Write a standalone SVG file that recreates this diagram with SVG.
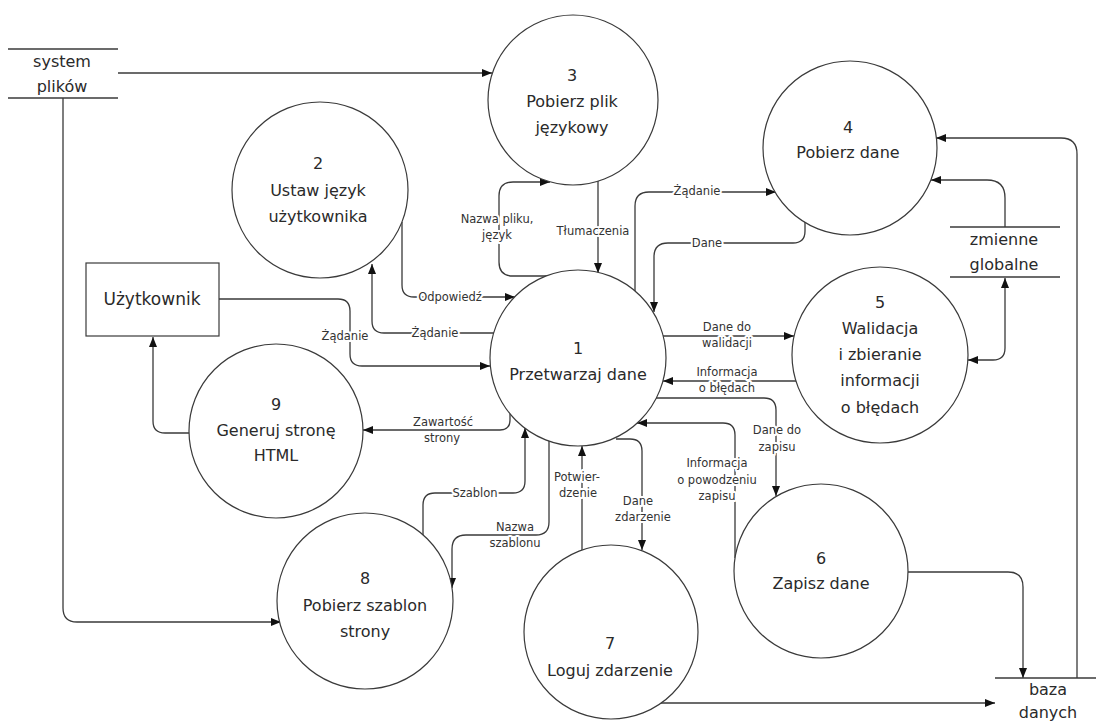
<svg xmlns="http://www.w3.org/2000/svg" width="1096" height="722" viewBox="0 0 1096 722">
<style>
.n{fill:#fff;stroke:#3a3a3a;stroke-width:1.2}
.t{font-family:"DejaVu Sans",Verdana,sans-serif;font-size:16px;fill:#2a2a2a;text-anchor:middle}
.l{font-family:"DejaVu Sans",Verdana,sans-serif;font-size:11.5px;fill:#333;text-anchor:middle;stroke:#fff;stroke-width:4px;paint-order:stroke;stroke-linejoin:round}
.c{fill:none;stroke:#3a3a3a;stroke-width:1.3}
.a{marker-end:url(#ah)}
.s{stroke:#3a3a3a;stroke-width:1.3}
</style>
<defs>
<marker id="ah" viewBox="0 0 10 8" refX="10" refY="4" markerWidth="10" markerHeight="8" orient="auto-start-reverse" markerUnits="userSpaceOnUse"><path d="M0,0 L10,4 L0,8z" fill="#111"/></marker>
</defs>
<rect width="1096" height="722" fill="#fff"/>
<g id="connectors">
<path class="c a" d="M118,73 H492"/>
<path class="c a" d="M63,98 V608 Q63,622 77,622 H281"/>
<path class="c a" d="M219,299 H338 Q350,299 350,311 V354 Q350,366 362,366 H490"/>
<path class="c a" d="M189,433 H165 Q153,433 153,421 V337"/>
<path class="c a" d="M497,333 H384 Q372,333 372,321 V264"/>
<path class="c a" d="M402,222 V285 Q402,297 414,297 H515"/>
<path class="c a" d="M548,276 H513 Q499,276 499,262 V196 Q499,182 513,182 H550"/>
<path class="c a" d="M598,181 V273"/>
<path class="c a" d="M635,291 V206 Q635,192 649,192 H776"/>
<path class="c a" d="M805,222 V231 Q805,243 793,243 H668 Q654,243 654,257 V312"/>
<path class="c a" d="M1005,227 V198 Q1005,180 987,180 H931"/>
<path class="c a" d="M1077,678 V154 Q1077,138 1061,138 H936"/>
<path class="c a" d="M663,336 H794"/>
<path class="c a" d="M796,381 H663"/>
<path class="c a" d="M1005,278 V348 Q1005,360 993,360 H968" marker-start="url(#ah)"/>
<path class="c a" d="M656,398 H764 Q776,398 776,410 V496"/>
<path class="c a" d="M735,558 V435 Q735,423 723,423 H637"/>
<path class="c a" d="M616,439 H630 Q642,439 642,451 V550"/>
<path class="c a" d="M582,550 V446"/>
<path class="c a" d="M549,441 V522 Q549,535 536,535 H466 Q452,535 452,549 V588"/>
<path class="c a" d="M423,535 V505 Q423,493 435,493 H513 Q525,493 525,481 V428"/>
<path class="c a" d="M510,414 V420 Q510,430 500,430 H363"/>
<path class="c a" d="M908,572 H1008 Q1023,572 1023,587 V678"/>
<path class="c a" d="M661,703 H995"/>
<text class="l" x="345" y="340">Żądanie</text>
<text class="l" x="435" y="337">Żądanie</text>
<text class="l" x="450" y="301">Odpowiedź</text>
<text class="l" x="497" y="223">Nazwa pliku,</text>
<text class="l" x="497" y="239">język</text>
<text class="l" x="593" y="235">Tłumaczenia</text>
<text class="l" x="697" y="195">Żądanie</text>
<text class="l" x="707" y="247">Dane</text>
<text class="l" x="727" y="331">Dane do</text>
<text class="l" x="727" y="347">walidacji</text>
<text class="l" x="727" y="376">Informacja</text>
<text class="l" x="727" y="392">o błędach</text>
<text class="l" x="777" y="434">Dane do</text>
<text class="l" x="777" y="451">zapisu</text>
<text class="l" x="717" y="467">Informacja</text>
<text class="l" x="717" y="484">o powodzeniu</text>
<text class="l" x="717" y="500">zapisu</text>
<text class="l" x="638" y="505">Dane</text>
<text class="l" x="643" y="521">zdarzenie</text>
<text class="l" x="577" y="481">Potwier-</text>
<text class="l" x="578" y="497">dzenie</text>
<text class="l" x="515" y="531">Nazwa</text>
<text class="l" x="515" y="547">szablonu</text>
<text class="l" x="475" y="497">Szablon</text>
<text class="l" x="443" y="426">Zawartość</text>
<text class="l" x="442" y="442">strony</text>
</g>
<g id="sys">
<line class="s" x1="8" y1="49" x2="118" y2="49"/><line class="s" x1="8" y1="98" x2="118" y2="98"/>
<text class="t" x="62" y="67">system</text><text class="t" x="62" y="92">plików</text>
</g>
<g id="zmienne">
<line class="s" x1="950" y1="227" x2="1060" y2="227"/><line class="s" x1="950" y1="277" x2="1060" y2="277"/>
<text class="t" x="1004" y="245">zmienne</text><text class="t" x="1004" y="270">globalne</text>
</g>
<g id="baza">
<line class="s" x1="995" y1="678" x2="1096" y2="678"/>
<text class="t" x="1048" y="695">baza</text><text class="t" x="1048" y="718">danych</text>
</g>
<g id="uzytkownik">
<rect class="n" x="86" y="263" width="133" height="73"/>
<text class="t" x="152" y="305" style="font-size:17px">Użytkownik</text>
</g>
<g id="n1"><circle class="n" cx="578" cy="358" r="88"/><text class="t" x="578" y="354">1</text><text class="t" x="578" y="380">Przetwarzaj dane</text></g>
<g id="n2"><circle class="n" cx="320" cy="190" r="88"/><text class="t" x="318" y="169">2</text><text class="t" x="318" y="196">Ustaw język</text><text class="t" x="318" y="222">użytkownika</text></g>
<g id="n3"><circle class="n" cx="573" cy="100" r="85"/><text class="t" x="572" y="81">3</text><text class="t" x="572" y="107">Pobierz plik</text><text class="t" x="572" y="133">językowy</text></g>
<g id="n4"><circle class="n" cx="850" cy="148" r="87"/><text class="t" x="848" y="133">4</text><text class="t" x="848" y="158">Pobierz dane</text></g>
<g id="n5"><circle class="n" cx="880" cy="355" r="88"/><text class="t" x="880" y="308">5</text><text class="t" x="880" y="334">Walidacja</text><text class="t" x="880" y="360">i zbieranie</text><text class="t" x="880" y="386">informacji</text><text class="t" x="880" y="413">o błędach</text></g>
<g id="n6"><circle class="n" cx="821" cy="571" r="87"/><text class="t" x="821" y="564">6</text><text class="t" x="821" y="589">Zapisz dane</text></g>
<g id="n7"><circle class="n" cx="611" cy="632" r="87"/><text class="t" x="610" y="649">7</text><text class="t" x="610" y="676">Loguj zdarzenie</text></g>
<g id="n8"><circle class="n" cx="365" cy="601" r="88"/><text class="t" x="365" y="584">8</text><text class="t" x="365" y="611">Pobierz szablon</text><text class="t" x="365" y="637">strony</text></g>
<g id="n9"><circle class="n" cx="276" cy="431" r="87"/><text class="t" x="276" y="410">9</text><text class="t" x="276" y="436">Generuj stronę</text><text class="t" x="276" y="461">HTML</text></g>
</svg>
